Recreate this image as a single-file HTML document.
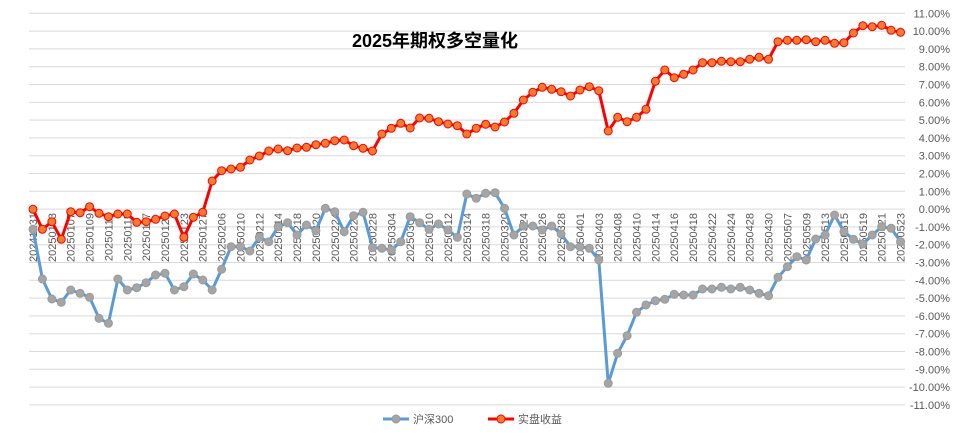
<!DOCTYPE html>
<html><head><meta charset="utf-8"><style>
html,body{margin:0;padding:0;background:#fff;}
svg{display:block;font-family:"Liberation Sans","Noto Sans CJK SC",sans-serif;}
</style></head><body>
<svg id="c" width="955" height="434" xmlns="http://www.w3.org/2000/svg">
<text x="435" y="47" text-anchor="middle" font-size="18" font-weight="bold" fill="#000">2025年期权多空量化</text>
</svg>
<script>
var s=document.getElementById('c'),NS='http://www.w3.org/2000/svg';
function el(t,a,txt){var e=document.createElementNS(NS,t);for(var k in a)e.setAttribute(k,a[k]);if(txt!==undefined)e.textContent=txt;s.appendChild(e);return e;}
var y0=13.3,step=17.8;
for(var i=0;i<=22;i++){var v=11-i;var y=y0+i*step;
el('line',{x1:29,x2:905,y1:y,y2:y,stroke:'#d9d9d9','stroke-width':1});
el('text',{x:950,y:y+4,'text-anchor':'end','font-size':11,fill:'#595959'},v.toFixed(2)+'%');}
var labs=['20241231','20250103','20250107','20250109','20250113','20250115','20250117','20250121','20250123','20250127','20250206','20250210','20250212','20250214','20250218','20250220','20250224','20250226','20250228','20250304','20250306','20250310','20250312','20250314','20250318','20250320','20250324','20250326','20250328','20250401','20250403','20250408','20250410','20250414','20250416','20250418','20250422','20250424','20250428','20250430','20250507','20250509','20250513','20250515','20250519','20250521','20250523'];
function X(i){return 33+i*9.43;}
labs.forEach(function(l,k){var x=X(2*k)+4;el('text',{transform:'translate('+x+',213) rotate(-90)','text-anchor':'end','font-size':11,fill:'#595959'},l);});
var red=[209.3,229.3,221.7,239.3,211.7,212.7,206.7,213.3,216.7,214,214,222.3,221.7,219.3,216,214,237.3,217.3,212.3,181,170.7,169,167.3,160,156,151,149,150.7,148,147.3,144.7,143.3,140.7,140,145.7,148.3,151,134,128.3,123.3,128,118,118.3,121.7,124,125.7,134,128.3,124.3,127,122,113.3,100,92.3,87.3,89.3,91.7,96,90,86.7,90.7,131,117.3,121.7,117.3,109.3,81.3,70,77.7,74.3,70,62.7,62.7,61.3,61.7,61.7,59.3,57.3,59.3,41.7,40.3,40.3,39.7,41.7,40.3,43.3,42.7,33,25.7,26.7,25.3,30.3,32.3];
var blue=[229.3,279,299,302.3,290,293.3,297.3,318.3,323.3,279,290,287.7,282.7,275,273.3,290,286.7,274,280,290,269.3,246.7,246.7,251,237.3,241.7,226.7,222.7,235,225,230.7,208.3,211.7,231.7,215.7,212.3,247.7,248.3,250,241.7,216.7,222.7,229.3,224,230,237.3,194,198.3,193.3,192.7,208.3,235,226,226,230,226,234,246.7,246.7,248.3,260,383.3,353.3,335.7,312.3,305,300.7,299.3,294.3,295,295,289,289,287.3,289,287.3,290,293.3,295.7,277.3,266.7,256.7,260,239,235,215,231.7,239.3,244,235,226.7,228.3,241.7];
function series(d,col,mf,ms){el('polyline',{points:d.map(function(y,i){return X(i)+','+y}).join(' '),fill:'none',stroke:col,'stroke-width':3,'stroke-linejoin':'round'});
d.forEach(function(y,i){el('circle',{cx:X(i),cy:y,r:4,fill:mf,stroke:ms,'stroke-width':1});});}
series(blue,'#5B9BD5','#A5A5A5','#9a9a9a');
series(red,'#FF0000','#ED7D31','#FF0000');
// legend
el('line',{x1:383,x2:409,y1:419,y2:419,stroke:'#5B9BD5','stroke-width':3});
el('circle',{cx:396,cy:419,r:4,fill:'#A5A5A5',stroke:'#9a9a9a'});
el('text',{x:413,y:423,'font-size':11,fill:'#595959'},'沪深300');
el('line',{x1:488,x2:514,y1:419,y2:419,stroke:'#FF0000','stroke-width':3});
el('circle',{cx:501,cy:419,r:4,fill:'#ED7D31',stroke:'#FF0000'});
el('text',{x:518,y:423,'font-size':11,fill:'#595959'},'实盘收益');
</script>
</body></html>
